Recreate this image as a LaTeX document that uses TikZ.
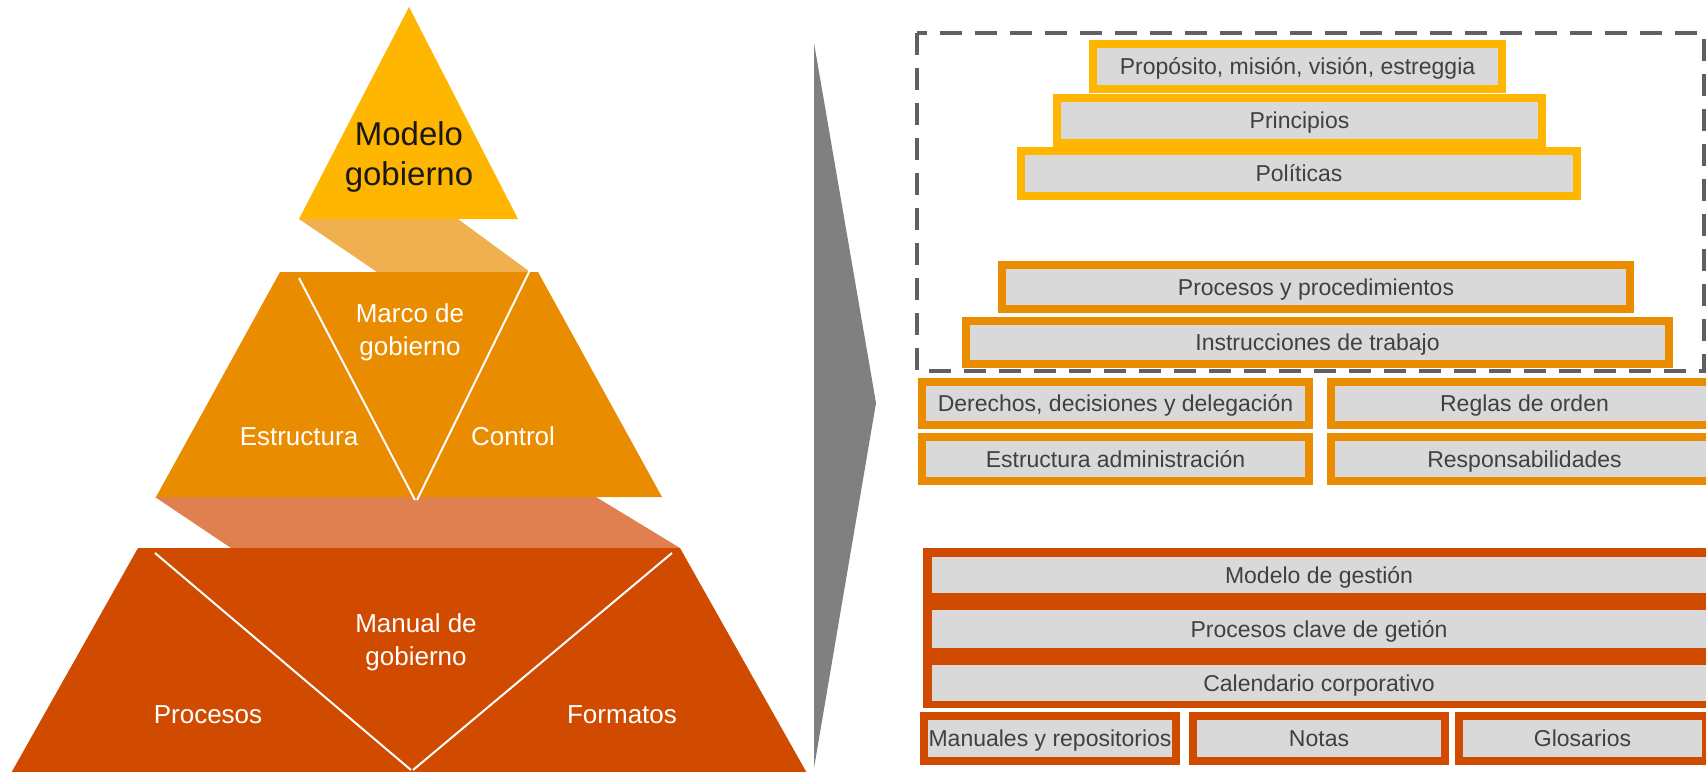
\documentclass[tikz,border=0pt]{standalone}
\usepackage{fontspec}
\setmainfont{Liberation Sans}
\definecolor{goldtier}{RGB}{255,182,0}
\definecolor{goldband}{RGB}{240,176,80}
\definecolor{midorange}{RGB}{234,140,0}
\definecolor{salmonband}{RGB}{224,127,80}
\definecolor{darkorange}{RGB}{208,74,0}
\definecolor{boxgray}{RGB}{217,217,217}
\definecolor{textgray}{RGB}{64,64,64}
\definecolor{dashgray}{RGB}{96,96,96}
\definecolor{wedgegray}{RGB}{128,128,128}
\begin{document}
\begin{tikzpicture}[x=0.5pt, y=-0.5pt,
    lbl/.style={text=white, font=\fontsize{13}{16.5}\selectfont, align=center, inner sep=0pt},
    tier/.style={fill=boxgray, line width=4pt, text=textgray, font=\fontsize{11.5}{13.8}\selectfont,
                 inner sep=0pt, text height=8.2pt, text depth=0pt}]
    \useasboundingbox (0,0) rectangle (1706,771);

    % Link bands
    \fill[goldband] (299,219) -- (458,219) -- (530,272) -- (377,272) -- cycle;
    \fill[salmonband] (155,497) -- (596,497) -- (680,548) -- (231,548) -- cycle;

    % Top triangle
    \fill[goldtier] (409,7) -- (518,219) -- (299,219) -- cycle;
    \node[font=\fontsize{16.5}{20}\selectfont, text=black!90, align=center, inner sep=0pt] (modelo) at (409,157) {Modelo\\gobierno};

    % Middle tier
    \fill[midorange] (280,272) -- (538,272) -- (662,497) -- (156,497) -- cycle;
    \draw[white, line width=1pt] (299,278) -- (415,500);
    \draw[white, line width=1pt] (530,270) -- (417,500);
    \node[lbl] (marco) at (410,332) {Marco de\\gobierno};
    \node[lbl, anchor=base] (estructura) at (299,445) {Estructura};
    \node[lbl, anchor=base] (control) at (513,445) {Control};

    % Bottom tier
    \fill[darkorange] (138,548) -- (680,548) -- (808,775) -- (10,775) -- cycle;
    \draw[white, line width=1pt] (155,553) -- (411,770);
    \draw[white, line width=1pt] (672,553) -- (413,770);
    \node[lbl] (manual) at (416,642) {Manual de\\gobierno};
    \node[lbl, anchor=base] (procesos) at (208,723) {Procesos};
    \node[lbl, anchor=base] (formatos) at (622,723) {Formatos};

    % Wedge
    \fill[wedgegray] (814,43) -- (876,403) -- (814,768) -- cycle;

    % Upper steps
    \node[tier, draw=goldtier, minimum width=204.5pt, minimum height=22.5pt] (proposito) at (1297.5,66.5) {Propósito, misión, visión, estreggia};
    \node[tier, draw=goldtier, minimum width=242.5pt, minimum height=22.5pt] (principios) at (1299.5,120) {Principios};
    \node[tier, draw=goldtier, minimum width=278pt, minimum height=22.5pt] (politicas) at (1299,173.5) {Políticas};
    \node[tier, draw=midorange, minimum width=314pt, minimum height=22pt] (procedimientos) at (1316,287) {Procesos y procedimientos};
    \node[tier, draw=midorange, minimum width=351.5pt, minimum height=21.5pt] (instrucciones) at (1317.5,342.5) {Instrucciones de trabajo};

    % Dashed frame
    \draw[dashgray, line width=2.25pt, dash pattern=on 11pt off 6.5pt] (917,33) rectangle (1704,371);

    % Structure blocks
    \node[tier, draw=midorange, minimum width=193.5pt, minimum height=21.5pt] (derechos) at (1115.5,403.5) {Derechos, decisiones y delegación};
    \node[tier, draw=midorange, minimum width=193.5pt, minimum height=21.5pt] (reglas) at (1524.5,403.5) {Reglas de orden};
    \node[tier, draw=midorange, minimum width=193.5pt, minimum height=22pt] (administracion) at (1115.5,459) {Estructura administración};
    \node[tier, draw=midorange, minimum width=193.5pt, minimum height=22pt] (responsabilidades) at (1524.5,459) {Responsabilidades};

    % Management block
    \fill[darkorange] (923,548) rectangle (1722,708);
    \node[tier, minimum width=387pt, minimum height=18pt] (gestion) at (1319,575) {Modelo de gestión};
    \node[tier, minimum width=387pt, minimum height=19pt] (clave) at (1319,629) {Procesos clave de getión};
    \node[tier, minimum width=387pt, minimum height=18pt] (calendario) at (1319,683) {Calendario corporativo};

    % Bottom row
    \node[tier, draw=darkorange, minimum width=126pt, minimum height=22.5pt] (manuales) at (1050,738.5) {Manuales y repositorios};
    \node[tier, draw=darkorange, minimum width=126pt, minimum height=22.5pt] (notas) at (1319,738.5) {Notas};
    \node[tier, draw=darkorange, minimum width=123.5pt, minimum height=22.5pt] (glosarios) at (1582.5,738.5) {Glosarios};
\end{tikzpicture}
\end{document}
